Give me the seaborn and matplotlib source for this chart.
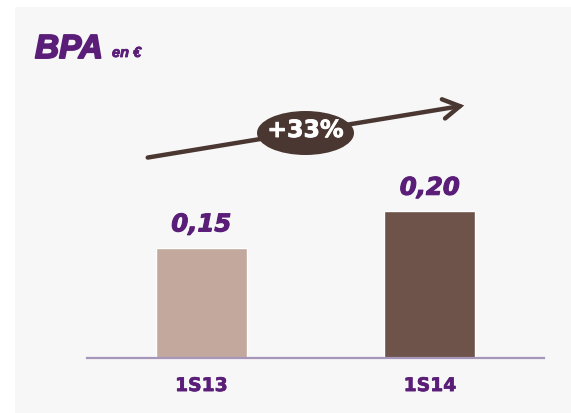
import matplotlib
matplotlib.use("Agg")
import matplotlib.pyplot as plt
from matplotlib.patches import Rectangle, Ellipse, FancyArrowPatch
from matplotlib.font_manager import FontProperties
import matplotlib.patheffects as pe
import seaborn as sns
import pandas as pd

# Earnings per share by half-year
periods = ["1S13", "1S14"]
eps = [0.15, 0.20]
growth_label = "+33%"

bar_colors = ["#C3A89E", "#6D5349"]
purple = "#5A1E78"
brown = "#4B3731"
axis_color = "#A697BA"
panel_color = "#F7F7F7"

sns.set_theme(style="white")
plt.rcParams["font.family"] = ["DejaVu Sans"]

W, H = 571, 414
fig = plt.figure(figsize=(W / 100, H / 100), dpi=100)
fig.patch.set_facecolor("white")


def fx(px):
    return px / W


def fy(py):
    return 1 - py / H


def heavy(color, w):
    # slightly thicken glyph strokes
    return [pe.withStroke(linewidth=w, foreground=color)]


# light grey panel behind everything
fig.add_artist(Rectangle((fx(15), 0), 1 - fx(15), fy(8), transform=fig.transFigure,
                         facecolor=panel_color, edgecolor="none", zorder=0))

ax = fig.add_axes([fx(87), fy(359), fx(544) - fx(87), fy(8) - fy(359)])
ax.set_facecolor("none")

df = pd.DataFrame({"period": periods, "eps": eps})
sns.barplot(data=df, x="period", y="eps", hue="period", palette=bar_colors,
            width=0.40, legend=False, ax=ax, saturation=1)

ax.set_xlim(-0.5, 1.5)
ax.set_ylim(0, (359 - 8) / 733)
ax.set_xlabel("")
ax.set_ylabel("")
ax.set_yticks([])
for side in ["top", "left", "right"]:
    ax.spines[side].set_visible(False)
ax.spines["bottom"].set_color(axis_color)
ax.spines["bottom"].set_linewidth(1.6)
ax.tick_params(axis="x", length=0, pad=13)
for lbl in ax.get_xticklabels():
    lbl.set_fontsize(13.5)
    lbl.set_fontweight("bold")
    lbl.set_color(purple)
    lbl.set_path_effects(heavy(purple, 0.5))

# value labels above bars
for i, v in enumerate(eps):
    ax.annotate(f"{v:.2f}".replace(".", ","), xy=(i, v), xytext=(0, 12),
                textcoords="offset points", ha="center", va="baseline",
                fontsize=17.5, fontweight="bold", fontstyle="italic", color=purple,
                path_effects=heavy(purple, 0.8))

# title
title_font = FontProperties(family="Liberation Sans", weight="bold", style="italic", size=24)
unit_font = FontProperties(family="Liberation Sans", weight="bold", style="italic", size=10.5)
fig.text(fx(35), fy(59), "BPA", fontproperties=title_font, color=purple,
         va="baseline", ha="left", path_effects=heavy(purple, 1.4))
fig.text(fx(112), fy(58), "en €", fontproperties=unit_font, color=purple,
         va="baseline", ha="left", path_effects=heavy(purple, 0.6))

# growth arrow with badge
arrow = FancyArrowPatch((fx(145), fy(159)), (fx(467), fy(106)), transform=fig.transFigure,
                        arrowstyle="->,head_length=12,head_width=7", color=brown, lw=3.2,
                        zorder=3, capstyle="round", joinstyle="miter")
fig.add_artist(arrow)
fig.add_artist(Ellipse((fx(305.5), fy(134)), fx(97), 44 / H, transform=fig.transFigure,
                       facecolor=brown, edgecolor="none", zorder=4))
fig.text(fx(305.5), fy(131), growth_label, fontsize=17, fontweight="bold", color="white",
         ha="center", va="center", zorder=5, path_effects=heavy("white", 0.6))

fig.savefig("out.png", dpi=100)
